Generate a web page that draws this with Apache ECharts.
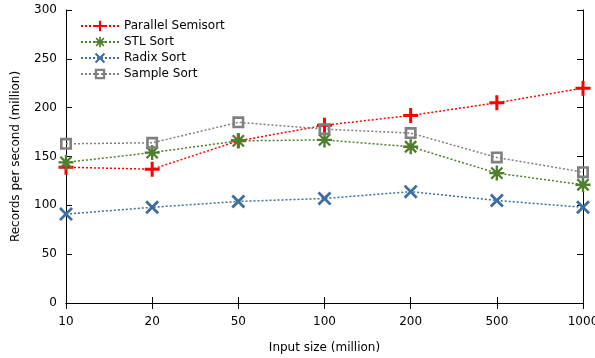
<!DOCTYPE html>
<html>
<head>
  <meta charset="UTF-8" />
  <title></title>
  <style type="text/css">
    * { margin: 0; padding: 0; }
    #main { width: 595px; height: 358px; background: #fff; }
  </style>
</head>
<body>
  <div id="main"></div>
</body>
<script src="https://cdn.jsdelivr.net/npm/echarts@6/dist/echarts.min.js"></script>
<script type="text/javascript">
  // data
  let sizes = ['10', '20', '50', '100', '200', '500', '1000']
  let semisort = [139, 137, 166, 182, 192, 205, 220]
  let stlSort = [144, 154, 166, 167, 160, 133, 121]
  let radixSort = [91, 98, 104, 107, 114, 105, 98]
  let sampleSort = [163, 164, 185, 178, 174, 149, 134]
  let yTicks = [0, 300, 50]

  let font = 'DejaVu Sans'
  let plusPath = 'path://M4,0H6V4H10V6H6V10H4V6H0V4H4Z'
  let crossPath = 'path://M0,1.4L1.4,0L5,3.6L8.6,0L10,1.4L6.4,5L10,8.6L8.6,10L5,6.4L1.4,10L0,8.6L3.6,5Z'
  let starPath = 'path://M4.2,0H5.8V10H4.2Z M0,4.2H10V5.8H0Z M0.7,1.8L1.8,0.7L9.3,8.2L8.2,9.3Z M8.2,0.7L9.3,1.8L1.8,9.3L0.7,8.2Z'
  // hollow square, inner path wound the other way
  let squarePath = 'path://M0,0H10V10H0Z M2.2,2.2V7.8H7.8V2.2Z'

  function makeSeries(name, data, color, symbol, size) {
    return {
      name: name,
      type: 'line',
      data: data,
      symbol: symbol,
      symbolSize: size,
      showAllSymbol: true,
      color: color,
      lineStyle: { color: color, width: 1.5, type: [2, 2] },
      itemStyle: { color: color },
      emphasis: { disabled: true },
      animation: false
    }
  }

  let myChart = echarts.init(document.getElementById('main'))
  let option = {
    animation: false,
    textStyle: { fontFamily: font },
    grid: { left: 66, right: 12, top: 10, bottom: 55, outerBoundsMode: 'none', containLabel: false },
    legend: {
      orient: 'vertical',
      left: 75,
      top: 15,
      itemGap: 4,
      itemWidth: 38,
      itemHeight: 13,
      textStyle: { fontFamily: font, fontSize: 12, color: '#000' },
      data: ['Parallel Semisort', 'STL Sort', 'Radix Sort', 'Sample Sort']
    },
    xAxis: [{
      type: 'category',
      data: sizes,
      boundaryGap: false,
      name: 'Input size (million)',
      nameLocation: 'middle',
      nameGap: 39,
      nameTextStyle: { fontFamily: font, fontSize: 12, color: '#000' },
      axisLine: { lineStyle: { color: '#000', width: 1 } },
      axisTick: { inside: true, length: 6, alignWithLabel: true, lineStyle: { color: '#000' } },
      axisLabel: { fontFamily: font, fontSize: 12, color: '#000', margin: 13 },
      splitLine: { show: false }
    }, {
      type: 'category',
      data: sizes,
      boundaryGap: false,
      position: 'top',
      axisLine: { lineStyle: { color: '#000', width: 1 } },
      axisTick: { inside: true, length: 6, lineStyle: { color: '#000' } },
      axisLabel: { show: false },
      splitLine: { show: false }
    }],
    yAxis: [{
      type: 'value',
      min: yTicks[0],
      max: yTicks[1],
      interval: yTicks[2],
      name: 'Records per second (million)',
      nameLocation: 'middle',
      nameGap: 44,
      nameTextStyle: { fontFamily: font, fontSize: 12, color: '#000' },
      axisLine: { show: true, lineStyle: { color: '#000', width: 1 } },
      axisTick: { show: true, inside: true, length: 6, lineStyle: { color: '#000' } },
      axisLabel: { fontFamily: font, fontSize: 12, color: '#000', margin: 9 },
      splitLine: { show: false }
    }, {
      type: 'value',
      min: yTicks[0],
      max: yTicks[1],
      interval: yTicks[2],
      position: 'right',
      axisLine: { show: true, lineStyle: { color: '#000', width: 1 } },
      axisTick: { show: true, inside: true, length: 6, lineStyle: { color: '#000' } },
      axisLabel: { show: false },
      splitLine: { show: false }
    }],
    series: [
      makeSeries('Parallel Semisort', semisort, '#ff0000', plusPath, 15),
      makeSeries('STL Sort', stlSort, '#4e7f2c', starPath, 15),
      makeSeries('Radix Sort', radixSort, '#3c6e9f', crossPath, 14),
      makeSeries('Sample Sort', sampleSort, '#808080', squarePath, 12)
    ]
  }
  myChart.setOption(option)
</script>
</html>
